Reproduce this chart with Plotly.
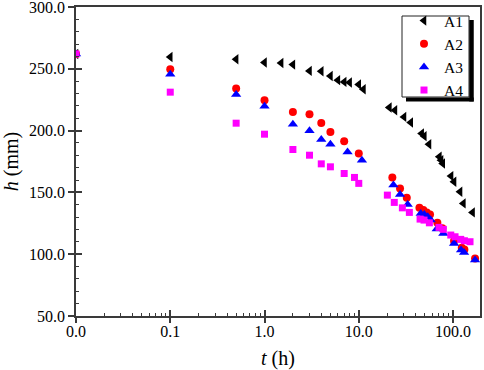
import plotly.graph_objects as go

# ---- data (t in hours, h in mm) ----
t_A1 = [0.01, 0.1, 0.5, 1.0, 1.5, 2.0, 3.0, 4.0, 5.0, 6.0, 7.0, 8.0, 10.0, 11.2,
        21.1, 24.2, 30.2, 35.6, 46.5, 49.6, 55.6, 71.6, 74.6, 77.8, 95.3, 102.5,
        118.7, 128.7, 161.1]
h_A1 = [262.0, 259.6, 257.7, 255.1, 254.7, 253.4, 248.3, 248.0, 244.2, 240.8, 239.4, 238.9, 237.3, 233.5,
        218.7, 216.5, 211.1, 206.6, 197.7, 195.5, 189.0, 178.8, 176.1, 173.4, 163.2, 158.6,
        150.5, 141.1, 133.8]

t_A2 = [0.01, 0.1, 0.5, 1.0, 2.0, 3.0, 4.0, 5.0, 7.0, 10.0,
        22.7, 27.4, 32.3, 44.0, 48.4, 52.6, 57.0, 68.2, 77.0, 102.5, 123.8, 131.9, 171.3]
h_A2 = [262.0, 249.6, 234.0, 224.6, 215.1, 213.3, 206.2, 198.9, 191.4, 181.5,
        162.1, 153.2, 145.6, 137.5, 135.7, 133.8, 132.2, 125.4, 120.9, 110.6, 105.2, 103.9, 96.6]

t_A3 = [0.01, 0.1, 0.5, 1.0, 2.0, 3.0, 4.0, 5.0, 7.6, 10.8,
        23.3, 27.4, 33.0, 45.4, 49.6, 53.9, 58.0, 67.2, 78.9, 102.5, 121.7, 130.9, 171.3]
h_A3 = [262.0, 245.6, 229.2, 219.7, 205.2, 199.8, 192.8, 189.0, 182.6, 176.1,
        155.9, 148.4, 140.3, 133.0, 132.2, 130.3, 127.6, 120.3, 116.8, 108.7, 103.3, 101.4, 95.3]

t_A4 = [0.01, 0.1, 0.5, 1.0, 2.0, 3.0, 4.0, 5.0, 7.0, 9.0, 10.0,
        20.1, 23.8, 29.0, 34.4, 44.7, 49.2, 56.1, 71.0, 78.9, 94.6, 105.0, 120.7, 131.9, 151.4]
h_A4 = [262.0, 231.1, 206.0, 197.1, 184.7, 180.1, 173.1, 170.7, 165.3, 162.1, 157.3,
        147.8, 141.9, 137.5, 133.8, 128.4, 127.6, 125.4, 121.7, 120.1, 115.5, 114.1, 112.0, 110.9, 110.1]

series_names = ["A1", "A2", "A3", "A4"]
x_tick_vals = [0.01, 0.1, 1, 10, 100]
x_tick_text = ["0.0", "0.1", "1.0", "10.0", "100.0"]

# ---- styling ----
FONT = "Liberation Serif, Times New Roman, Times, DejaVu Serif, serif"
AX = "#3a3a3a"
styles = [
    dict(symbol="triangle-left", color="black", size=9),
    dict(symbol="circle", color="red", size=8),
    dict(symbol="triangle-up", color="blue", size=9),
    dict(symbol="square", color="magenta", size=7),
]
series = [(t_A1, h_A1), (t_A2, h_A2), (t_A3, h_A3), (t_A4, h_A4)]

fig = go.Figure()
for (tx, hy), name, st in zip(series, series_names, styles):
    fig.add_trace(go.Scatter(
        x=tx, y=hy, name=name, mode="markers",
        marker=dict(symbol=st["symbol"], color=st["color"], size=st["size"], line=dict(width=0)),
    ))
# empty trace to carry the overlay tick axes
fig.add_trace(go.Scatter(x=[], y=[], xaxis="x2", yaxis="y2", showlegend=False, hoverinfo="skip"))

xr = [-2, 2.286]
yr = [50, 300]
minor_x = [m * 10.0 ** e for e in range(-2, 3) for m in range(2, 10)]

W, H = 484, 370
ML, MR, MT, MB = 76, 4, 7, 54
PW, PH = W - ML - MR, H - MT - MB


def px_x(p):
    return (p - ML) / PW


def px_y(p):
    return (H - MB - p) / PH


def paper_line(x0, y0, x1, y1, width, color="black"):
    return dict(type="line", xref="paper", yref="paper",
                x0=px_x(x0), y0=px_y(y0), x1=px_x(x1), y1=px_y(y1),
                line=dict(color=color, width=width), layer="above")


fig.update_layout(
    width=W, height=H,
    margin=dict(l=ML, r=MR, t=MT, b=MB, autoexpand=False),
    paper_bgcolor="white", plot_bgcolor="white",
    font=dict(family=FONT, size=16, color="black"),
    showlegend=True,
    xaxis=dict(
        type="log", range=xr, tickvals=x_tick_vals, ticktext=x_tick_text,
        ticks="inside", ticklen=6, tickwidth=1.5, tickcolor=AX,
        minor=dict(ticks="inside", ticklen=3, tickwidth=1, tickcolor=AX, tickvals=minor_x, showgrid=False),
        showline=True, linecolor=AX, linewidth=1.5, mirror=True,
        showgrid=False, zeroline=False, automargin=False, ticklabeloverflow="allow",
        tickfont=dict(family=FONT, size=16),
        title=dict(text="<i>t</i> (h)", font=dict(family=FONT, size=20), standoff=14),
    ),
    yaxis=dict(
        range=yr, dtick=50, tickformat=".1f",
        ticks="outside", ticklen=6, tickwidth=1.5, tickcolor=AX,
        showline=True, linecolor=AX, linewidth=1.5, mirror=True,
        showgrid=False, zeroline=False, automargin=False, ticklabeloverflow="allow",
        tickfont=dict(family=FONT, size=16),
        title=dict(text="<i>h</i> (mm)", font=dict(family=FONT, size=20), standoff=6),
    ),
    xaxis2=dict(
        type="log", range=xr, overlaying="x", anchor="y", side="bottom",
        tickvals=x_tick_vals, showticklabels=False,
        ticks="outside", ticklen=6, tickwidth=1.5, tickcolor=AX,
        showline=False, showgrid=False, zeroline=False,
    ),
    yaxis2=dict(
        range=yr, overlaying="y", anchor="x", side="left",
        dtick=50, showticklabels=False,
        ticks="inside", ticklen=6, tickwidth=1.5, tickcolor=AX,
        minor=dict(ticks="inside", ticklen=3, tickwidth=1, tickcolor=AX, dtick=10, showgrid=False),
        showline=False, showgrid=False, zeroline=False,
    ),
    legend=dict(
        x=px_x(404), y=px_y(4), xanchor="left", yanchor="top",
        bgcolor="rgba(0,0,0,0)", borderwidth=0,
        font=dict(family=FONT, size=15.5), tracegroupgap=0, itemwidth=30,
    ),
    shapes=[
        # legend frame
        paper_line(402, 16, 469, 16, 1, "#222222"),
        paper_line(402, 16, 402, 97, 1, "#222222"),
        paper_line(469, 16, 469, 97, 1, "#222222"),
        paper_line(402, 97, 469, 97, 1, "#222222"),
        # drop shadow: right strip and bottom strip
        paper_line(471.5, 20, 471.5, 101.5, 4.5),
        paper_line(406, 99.5, 473.7, 99.5, 4),
    ],
)

fig.write_html("out.html", config={"displayModeBar": False},
               post_script="document.body.style.margin='0';")
